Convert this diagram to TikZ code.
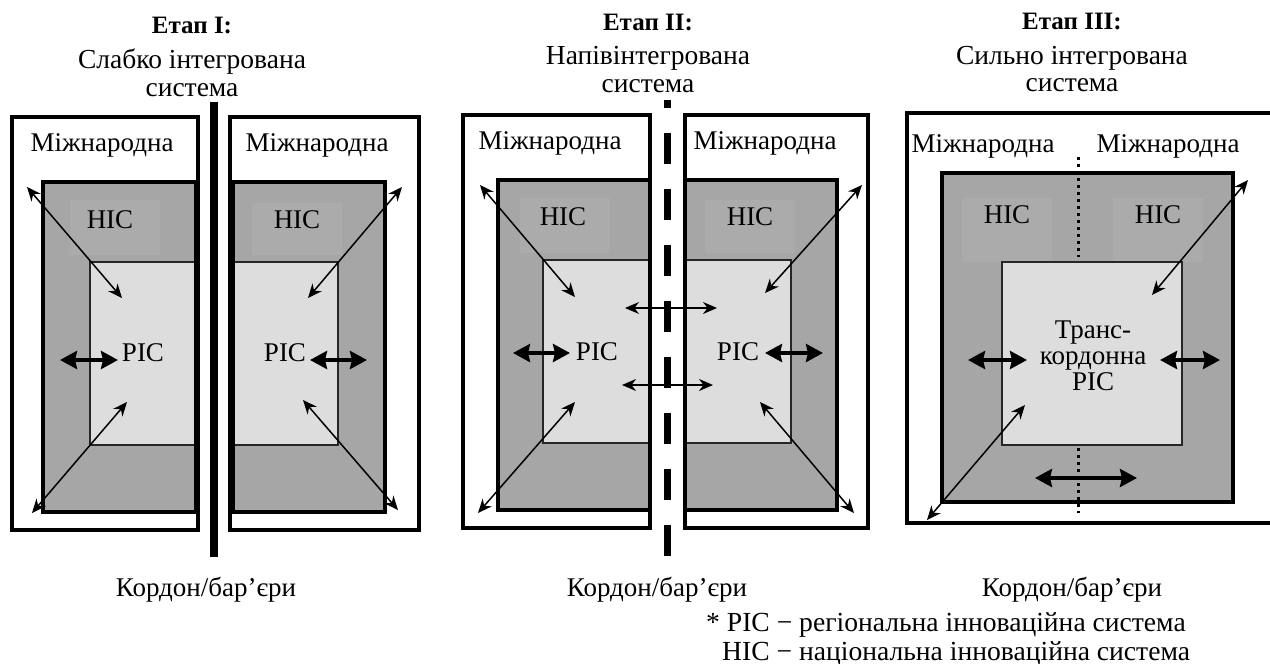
\documentclass[tikz,border=0pt]{standalone}
\usepackage{fontspec}
\setmainfont{Liberation Serif}
\usetikzlibrary{arrows.meta}
\definecolor{hicgray}{HTML}{A6A6A6}
\definecolor{hiclab}{HTML}{ABABAB}
\definecolor{picgray}{HTML}{DDDDDD}
\begin{document}
\begin{tikzpicture}[x=1pt,y=-1pt,
  outerbox/.style={line width=4pt},
  hicbox/.style={fill=hicgray},
  hicedge/.style={line width=4pt},
  picbox/.style={fill=picgray,draw=black!85,line width=1.3pt},
  lbl/.style={inner sep=0pt,font=\fontsize{27}{26}\selectfont},
  ttl/.style={inner sep=0pt,font=\fontsize{25}{28}\selectfont\bfseries},
  sub/.style={inner sep=0pt,font=\fontsize{27.5}{28}\selectfont},
  note/.style={inner sep=0pt,font=\fontsize{27.6}{28}\selectfont},
  thinarr/.style={line width=1.5pt,{Stealth[length=14pt,width=12pt]}-{Stealth[length=14pt,width=12pt]}},
  thickarr/.style={line width=4.5pt,{Stealth[length=17pt,width=18pt,inset=2pt]}-{Stealth[length=17pt,width=18pt,inset=2pt]}},
  barrier/.style={line width=8pt},
  dashbarrier/.style={line width=7pt,dash pattern=on 31pt off 25pt,dash phase=23pt},
  dotline/.style={line width=3pt,dash pattern=on 3pt off 4pt}]
\useasboundingbox (0,0) rectangle (1270,664);

% ---------------- Titles ----------------
\node[ttl] (t1) at (192,25) {Етап I:};
\node[sub] (s1a) at (192,62) {Слабко інтегрована};
\node[sub] (s1b) at (192,90) {система};
\node[ttl] (t2) at (648,22) {Етап II:};
\node[sub] (s2a) at (648,58) {Напівінтегрована};
\node[sub] (s2b) at (648,86) {система};
\node[ttl] (t3) at (1072,21) {Етап III:};
\node[sub] (s3a) at (1072,58) {Сильно інтегрована};
\node[sub] (s3b) at (1072,85) {система};

% ---------------- Panel I ----------------
% left system
\fill[hicgray] (43,182) rectangle (196,512);
\fill[hiclab] (70,200) rectangle (160,255);
\path[picbox] (90,262) rectangle (196,445);
\draw[hicedge] (43,182) rectangle (196,512);
\draw[outerbox] (12,117) rectangle (198,530);
% right system
\fill[hicgray] (233,182) rectangle (385,512);
\fill[hiclab] (252,203) rectangle (342,255);
\path[picbox] (233,262) rectangle (338,445);
\draw[hicedge] (233,182) rectangle (385,512);
\draw[outerbox] (230,117) rectangle (419,530);
% barrier
\coordinate (b1top) at (214,102);
\coordinate (b1bot) at (214,557);
\draw[barrier] (b1top) -- (b1bot);

\node[lbl] (m1l) at (102,145) {Міжнародна};
\node[lbl] (m1r) at (317,145) {Міжнародна};
\node[lbl] (h1l) at (110,220) {НІС};
\node[lbl] (h1r) at (297,220) {НІС};
\node[lbl] (p1l) at (143,353) {РІС};
\node[lbl] (p1r) at (285,353) {РІС};

\coordinate (a1a) at (27,187);  \coordinate (a1b) at (122,298);
\coordinate (a2a) at (32,513);  \coordinate (a2b) at (127,402);
\coordinate (a3a) at (60,360);  \coordinate (a3b) at (118,360);
\coordinate (a4a) at (402,187); \coordinate (a4b) at (308,298);
\coordinate (a5a) at (303,400); \coordinate (a5b) at (398,510);
\coordinate (a6a) at (310,360); \coordinate (a6b) at (367,360);
\draw[thinarr] (a1a) -- (a1b);
\draw[thinarr] (a2a) -- (a2b);
\draw[thickarr] (a3a) -- (a3b);
\draw[thinarr] (a4a) -- (a4b);
\draw[thinarr] (a5a) -- (a5b);
\draw[thickarr] (a6a) -- (a6b);

\node[lbl,anchor=base] (k1) at (206,596) {Кордон/бар’єри};

% ---------------- Panel II ----------------
\fill[hicgray] (498,180) rectangle (650,510);
\fill[hiclab] (520,198) rectangle (610,253);
\path[picbox] (543,260) rectangle (650,443);
\draw[hicedge] (498,180) rectangle (650,510);
\draw[outerbox] (463,115) rectangle (650,528);

\fill[hicgray] (685,180) rectangle (837,510);
\fill[hiclab] (705,200) rectangle (795,253);
\path[picbox] (685,260) rectangle (791,443);
\draw[hicedge] (685,180) rectangle (837,510);
\draw[outerbox] (685,115) rectangle (868,528);

\coordinate (b2top) at (667,100);
\coordinate (b2bot) at (667,557);
\draw[dashbarrier] (b2top) -- (b2bot);

\node[lbl] (m2l) at (550,143) {Міжнародна};
\node[lbl] (m2r) at (765,143) {Міжнародна};
\node[lbl] (h2l) at (563,217) {НІС};
\node[lbl] (h2r) at (750,217) {НІС};
\node[lbl] (p2l) at (597,352) {РІС};
\node[lbl] (p2r) at (738,352) {РІС};

\coordinate (c1a) at (480,185); \coordinate (c1b) at (575,297);
\coordinate (c2a) at (862,185); \coordinate (c2b) at (765,293);
\coordinate (c3a) at (625,308); \coordinate (c3b) at (717,308);
\coordinate (c4a) at (622,385); \coordinate (c4b) at (713,385);
\coordinate (c5a) at (513,353); \coordinate (c5b) at (570,353);
\coordinate (c6a) at (765,353); \coordinate (c6b) at (823,353);
\coordinate (c7a) at (478,513); \coordinate (c7b) at (575,402);
\coordinate (c8a) at (760,402); \coordinate (c8b) at (854,513);
\draw[thinarr] (c1a) -- (c1b);
\draw[thinarr] (c2a) -- (c2b);
\draw[thinarr] (c3a) -- (c3b);
\draw[thinarr] (c4a) -- (c4b);
\draw[thickarr] (c5a) -- (c5b);
\draw[thickarr] (c6a) -- (c6b);
\draw[thinarr] (c7a) -- (c7b);
\draw[thinarr] (c8a) -- (c8b);

\node[lbl,anchor=base] (k2) at (657,596) {Кордон/бар’єри};

% ---------------- Panel III ----------------
\fill[hicgray] (942,173) rectangle (1233,502);
\fill[hiclab] (962,198) rectangle (1052,262);
\fill[hiclab] (1113,198) rectangle (1203,262);
\path[picbox] (1002,262) rectangle (1182,445);
\draw[hicedge] (942,173) rectangle (1233,502);
\draw[outerbox] (1272,113) -- (907,113) -- (907,523) -- (1272,523);

\coordinate (d1top) at (1078,157); \coordinate (d1bot) at (1078,257);
\coordinate (d2top) at (1078,448); \coordinate (d2bot) at (1078,513);
\draw[dotline] (d1top) -- (d1bot);
\draw[dotline] (d2top) -- (d2bot);

\node[lbl] (m3l) at (983,146) {Міжнародна};
\node[lbl] (m3r) at (1168,146) {Міжнародна};
\node[lbl] (h3l) at (1007,215) {НІС};
\node[lbl] (h3r) at (1158,215) {НІС};
\node[lbl,align=center] (p3) at (1093,356) {Транс-\\кордонна\\РІС};

\coordinate (e1a) at (1248,180); \coordinate (e1b) at (1152,295);
\coordinate (e2a) at (927,520);  \coordinate (e2b) at (1025,405);
\coordinate (e3a) at (968,360);  \coordinate (e3b) at (1027,360);
\coordinate (e4a) at (1160,360); \coordinate (e4b) at (1220,360);
\coordinate (e5a) at (1035,478); \coordinate (e5b) at (1137,478);
\draw[thinarr] (e1a) -- (e1b);
\draw[thinarr] (e2a) -- (e2b);
\draw[thickarr] (e3a) -- (e3b);
\draw[thickarr] (e4a) -- (e4b);
\draw[thickarr] (e5a) -- (e5b);

\node[lbl,anchor=base] (k3) at (1072,596) {Кордон/бар’єри};

% ---------------- Footnote ----------------
\node[note,anchor=base west] (f1) at (706,631) {* РІС − регіональна інноваційна система};
\node[note,anchor=base west] (f2) at (722,660) {НІС − національна інноваційна система};
\end{tikzpicture}
\end{document}
